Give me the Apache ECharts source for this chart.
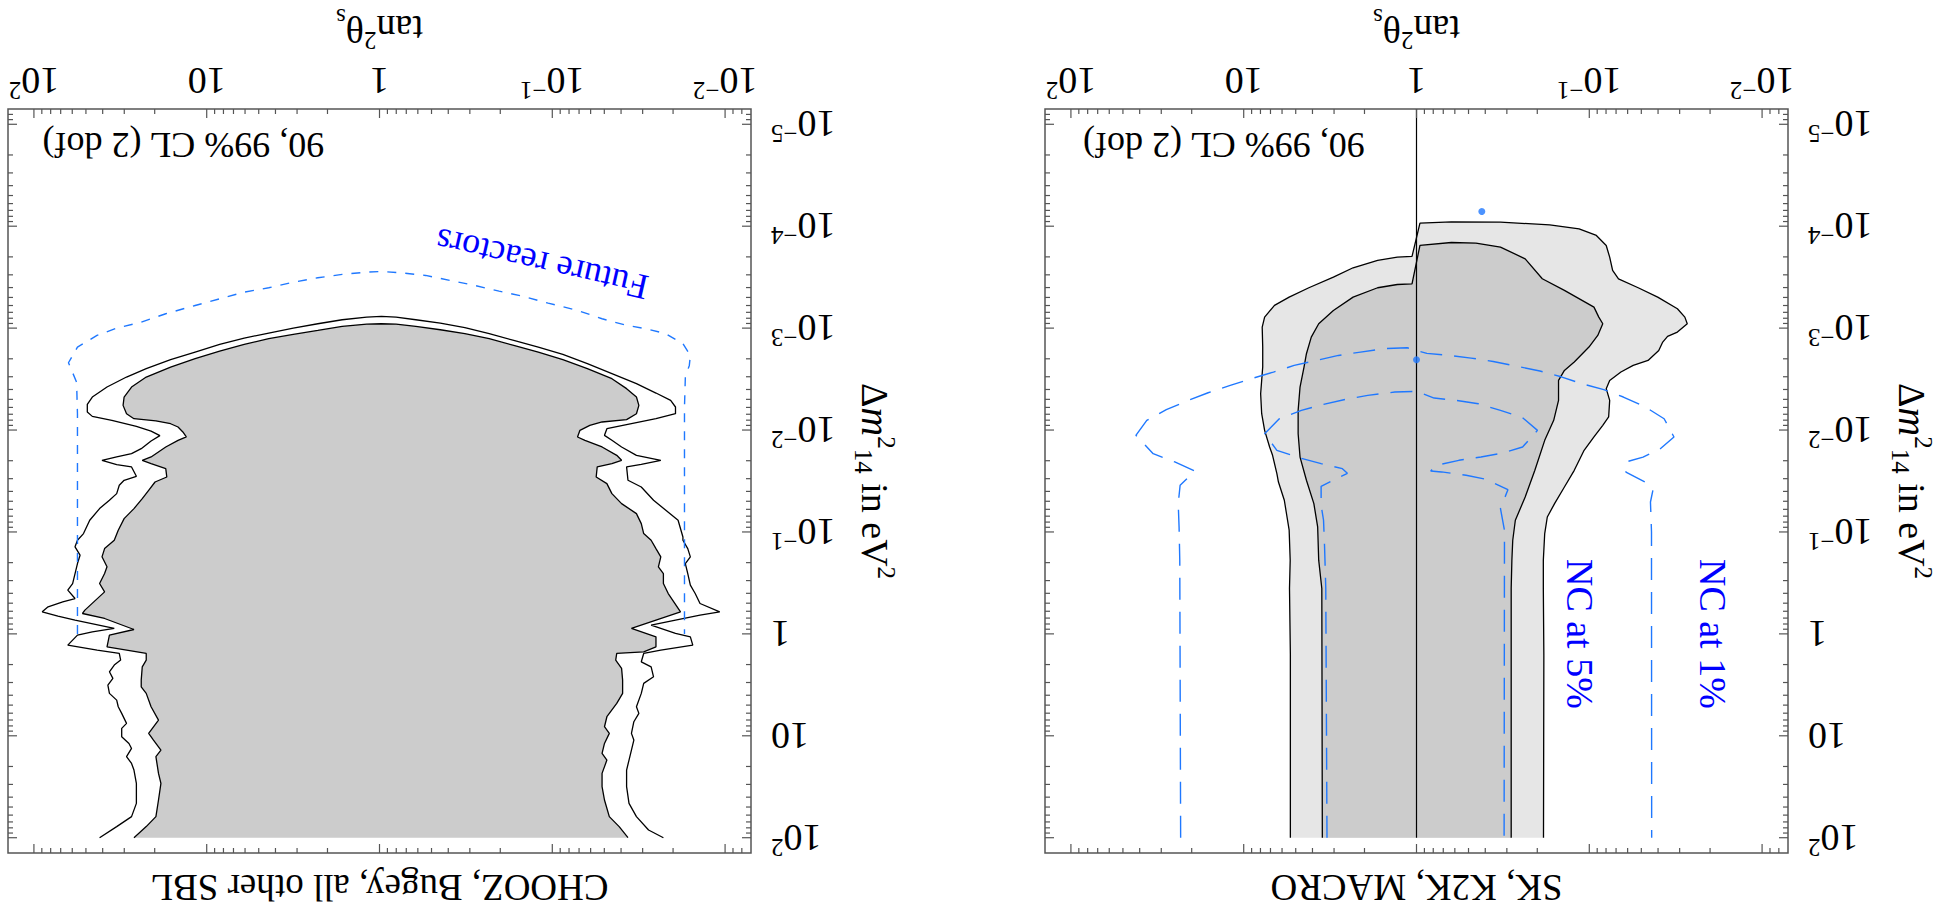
<!DOCTYPE html>
<html><head><meta charset="utf-8">
<script src="https://cdn.jsdelivr.net/npm/echarts@6/dist/echarts.min.js"></script>
<style>
html,body{margin:0;padding:0;background:#fff;overflow:hidden}
#chart{width:1939px;height:915px;transform:rotate(180deg);transform-origin:50% 50%}
</style></head><body><div id="chart"></div>
<script>
// All contour points as [log10(tan^2 theta_s), log10(Delta m^2_14 / eV^2)]
const skOuter99 = [[0.73,2.0],[0.73,0.2],[0.735,-0.445],[0.731,-0.723],[0.737,-1.017],[0.754,-1.196],[0.765,-1.311],[0.799,-1.49],[0.808,-1.572],[0.833,-1.752],[0.850,-1.834],[0.879,-1.997],[0.896,-2.160],[0.902,-2.356],[0.890,-2.618],[0.890,-2.814],[0.893,-3.010],[0.879,-3.108],[0.822,-3.223],[0.737,-3.304],[0.623,-3.396],[0.481,-3.500],[0.367,-3.592],[0.225,-3.664],[0.111,-3.696],[0.026,-3.703],
 [-0.020,-4.030],[-0.202,-4.043],[-0.486,-4.040],[-0.771,-4.013],[-0.941,-3.974],[-1.041,-3.909],[-1.098,-3.811],[-1.118,-3.696],[-1.135,-3.566],[-1.169,-3.484],[-1.283,-3.396],[-1.396,-3.304],[-1.510,-3.190],[-1.553,-3.108],[-1.567,-3.043],[-1.510,-2.961],[-1.453,-2.919],[-1.425,-2.863],[-1.402,-2.781],[-1.340,-2.683],[-1.254,-2.634],[-1.183,-2.569],[-1.118,-2.487],[-1.098,-2.406],[-1.118,-2.291],[-1.112,-2.128],[-1.078,-2.046],[-1.027,-1.932],[-0.970,-1.801],[-0.913,-1.605],[-0.856,-1.441],[-0.799,-1.278],[-0.757,-1.147],[-0.742,-0.984],[-0.734,-0.723],[-0.734,-0.445],[-0.737,0.209],[-0.735,2.0]];
const skInner90 = [[0.545,2.0],[0.548,-0.445],[0.566,-0.723],[0.572,-1.049],[0.594,-1.278],[0.637,-1.507],[0.674,-1.735],[0.685,-1.964],[0.685,-2.193],[0.674,-2.422],[0.651,-2.618],[0.637,-2.749],[0.609,-2.912],[0.566,-3.043],[0.481,-3.173],[0.367,-3.304],[0.225,-3.396],[0.111,-3.428],[0.026,-3.435],
 [-0.020,-3.811],[-0.202,-3.840],[-0.344,-3.834],[-0.486,-3.795],[-0.629,-3.680],[-0.728,-3.484],[-0.856,-3.370],[-1.027,-3.206],[-1.055,-3.108],[-1.078,-3.043],[-1.049,-2.928],[-0.998,-2.814],[-0.913,-2.667],[-0.856,-2.585],[-0.822,-2.487],[-0.822,-2.291],[-0.794,-2.095],[-0.742,-1.899],[-0.685,-1.605],[-0.629,-1.343],[-0.572,-1.115],[-0.557,-0.919],[-0.552,-0.723],[-0.548,-0.445],[-0.548,2.0]];
const skUnitLine = [[0,-5.15],[0,2.0]];
const skNC1 = [[1.365,2.0],[1.37,-0.723],[1.374,-1.049],[1.379,-1.278],[1.368,-1.458],[1.283,-1.598],[1.399,-1.687],[1.524,-1.768],[1.624,-1.948],[1.561,-2.095],[1.448,-2.200],[1.320,-2.291],[1.206,-2.366],[1.078,-2.438],[0.956,-2.504],[0.828,-2.569],[0.708,-2.634],[0.580,-2.683],[0.452,-2.732],[0.324,-2.765],[0.191,-2.798],[0.054,-2.807],[-0.060,-2.752],[-0.188,-2.732],[-0.316,-2.706],[-0.444,-2.673],[-0.586,-2.624],[-0.714,-2.579],[-0.842,-2.520],[-0.956,-2.455],[-1.084,-2.396],[-1.197,-2.324],[-1.325,-2.226],[-1.433,-2.111],[-1.490,-1.932],[-1.411,-1.817],[-1.311,-1.735],[-1.212,-1.687],[-1.212,-1.588],[-1.340,-1.474],[-1.368,-1.409],[-1.354,-1.294],[-1.36,-1.0],[-1.36,-0.72],[-1.361,2.0]];
const skNC5 = [[0.518,2.0],[0.525,-0.445],[0.532,-0.853],[0.538,-1.115],[0.552,-1.262],[0.552,-1.448],[0.40,-1.575],[0.429,-1.621],[0.552,-1.670],[0.680,-1.729],[0.808,-1.801],[0.879,-1.964],[0.794,-2.111],[0.666,-2.193],[0.538,-2.252],[0.410,-2.301],[0.282,-2.340],[0.125,-2.373],[0.0,-2.379],[-0.102,-2.314],[-0.230,-2.291],[-0.358,-2.258],[-0.486,-2.193],[-0.614,-2.121],[-0.700,-1.997],[-0.614,-1.834],[-0.501,-1.775],[-0.373,-1.736],[-0.245,-1.703],[-0.117,-1.654],[-0.082,-1.598],[-0.145,-1.589],[-0.287,-1.556],[-0.401,-1.517],[-0.529,-1.415],[-0.486,-1.229],[-0.509,-1.017],[-0.509,-0.788],[-0.507,2.0]];
const skBestFits = [[-0.378,-4.144],[0.0,-2.690]];

const chOuter = [[1.62,2.0],[1.521,1.891],[1.435,1.793],[1.407,1.663],[1.407,1.467],[1.421,1.336],[1.435,1.271],[1.464,1.205],[1.435,1.124],[1.450,1.075],[1.492,1.009],[1.492,0.927],[1.464,0.878],[1.492,0.780],[1.512,0.715],[1.521,0.650],[1.563,0.584],[1.572,0.503],[1.543,0.437],[1.563,0.372],[1.535,0.306],[1.498,0.257],[1.506,0.192],[1.634,0.159],[1.804,0.110],[1.748,0.012],[1.662,-0.020],[1.535,-0.053],[1.762,-0.135],[1.861,-0.174],[1.952,-0.216],[1.918,-0.265],[1.833,-0.314],[1.762,-0.347],[1.804,-0.429],[1.776,-0.494],[1.762,-0.592],[1.748,-0.690],[1.733,-0.772],[1.762,-0.854],[1.748,-0.919],[1.713,-0.984],[1.677,-1.115],[1.620,-1.229],[1.563,-1.311],[1.521,-1.376],[1.506,-1.458],[1.478,-1.507],[1.407,-1.546],[1.435,-1.638],[1.521,-1.660],[1.606,-1.703],[1.521,-1.736],[1.435,-1.768],[1.379,-1.817],[1.322,-1.893],[1.271,-1.945],[1.322,-1.990],[1.407,-2.036],[1.549,-2.095],[1.662,-2.134],[1.691,-2.177],[1.691,-2.252],[1.662,-2.324],[1.577,-2.422],[1.464,-2.520],[1.350,-2.602],[1.209,-2.690],[1.067,-2.765],[0.925,-2.840],[0.783,-2.902],[0.641,-2.951],[0.499,-3.000],[0.357,-3.043],[0.216,-3.082],[0.074,-3.108],[-0.011,-3.115],
 [-0.096,-3.108],[-0.210,-3.082],[-0.352,-3.049],[-0.494,-3.004],[-0.635,-2.945],[-0.777,-2.879],[-0.919,-2.814],[-1.061,-2.742],[-1.203,-2.651],[-1.345,-2.553],[-1.487,-2.455],[-1.600,-2.363],[-1.685,-2.291],[-1.713,-2.226],[-1.713,-2.160],[-1.600,-2.111],[-1.458,-2.062],[-1.316,-2.013],[-1.302,-1.948],[-1.345,-1.899],[-1.401,-1.834],[-1.487,-1.752],[-1.628,-1.703],[-1.515,-1.664],[-1.430,-1.638],[-1.438,-1.507],[-1.515,-1.441],[-1.586,-1.311],[-1.657,-1.213],[-1.728,-1.115],[-1.756,-0.951],[-1.756,-0.919],[-1.784,-0.837],[-1.799,-0.756],[-1.770,-0.690],[-1.784,-0.592],[-1.799,-0.478],[-1.827,-0.396],[-1.855,-0.298],[-1.969,-0.216],[-1.855,-0.184],[-1.713,-0.135],[-1.572,-0.086],[-1.713,-0.004],[-1.799,0.029],[-1.813,0.110],[-1.628,0.159],[-1.529,0.192],[-1.515,0.274],[-1.572,0.323],[-1.586,0.421],[-1.529,0.486],[-1.515,0.584],[-1.487,0.715],[-1.501,0.780],[-1.472,0.862],[-1.458,0.976],[-1.472,1.042],[-1.458,1.140],[-1.444,1.238],[-1.430,1.336],[-1.430,1.499],[-1.444,1.663],[-1.487,1.793],[-1.557,1.924],[-1.643,2.0]];
const chInner = [[1.421,2.0],[1.350,1.891],[1.294,1.793],[1.279,1.630],[1.265,1.467],[1.279,1.369],[1.294,1.205],[1.265,1.140],[1.308,1.042],[1.336,0.976],[1.279,0.846],[1.322,0.715],[1.350,0.584],[1.379,0.519],[1.379,0.454],[1.373,0.323],[1.350,0.257],[1.350,0.192],[1.577,0.127],[1.563,0.012],[1.421,-0.043],[1.591,-0.151],[1.719,-0.200],[1.705,-0.233],[1.591,-0.412],[1.620,-0.494],[1.591,-0.592],[1.577,-0.658],[1.606,-0.756],[1.591,-0.837],[1.535,-0.919],[1.512,-1.017],[1.478,-1.131],[1.421,-1.229],[1.373,-1.327],[1.336,-1.409],[1.299,-1.490],[1.231,-1.539],[1.237,-1.621],[1.322,-1.670],[1.373,-1.703],[1.322,-1.736],[1.237,-1.834],[1.166,-1.899],[1.118,-1.932],[1.138,-1.981],[1.166,-2.030],[1.209,-2.062],[1.294,-2.089],[1.421,-2.111],[1.464,-2.160],[1.484,-2.242],[1.478,-2.324],[1.435,-2.422],[1.350,-2.520],[1.209,-2.618],[1.067,-2.700],[0.925,-2.775],[0.783,-2.840],[0.641,-2.896],[0.499,-2.938],[0.357,-2.977],[0.216,-3.017],[0.074,-3.040],[-0.011,-3.043],
 [-0.096,-3.040],[-0.210,-3.017],[-0.352,-2.984],[-0.494,-2.945],[-0.635,-2.896],[-0.777,-2.830],[-0.919,-2.765],[-1.061,-2.690],[-1.203,-2.602],[-1.345,-2.504],[-1.430,-2.406],[-1.487,-2.324],[-1.501,-2.242],[-1.487,-2.160],[-1.430,-2.102],[-1.288,-2.079],[-1.217,-2.046],[-1.160,-1.997],[-1.146,-1.932],[-1.189,-1.899],[-1.288,-1.834],[-1.373,-1.752],[-1.401,-1.703],[-1.345,-1.670],[-1.260,-1.638],[-1.254,-1.539],[-1.316,-1.474],[-1.345,-1.376],[-1.401,-1.278],[-1.487,-1.180],[-1.515,-1.082],[-1.529,-0.984],[-1.572,-0.919],[-1.600,-0.837],[-1.628,-0.756],[-1.614,-0.658],[-1.643,-0.592],[-1.643,-0.494],[-1.671,-0.396],[-1.742,-0.216],[-1.600,-0.135],[-1.458,-0.053],[-1.600,0.029],[-1.600,0.127],[-1.529,0.176],[-1.373,0.192],[-1.367,0.257],[-1.401,0.339],[-1.407,0.454],[-1.407,0.584],[-1.373,0.682],[-1.316,0.813],[-1.302,0.911],[-1.330,0.976],[-1.302,1.075],[-1.288,1.173],[-1.316,1.238],[-1.288,1.369],[-1.288,1.499],[-1.302,1.630],[-1.330,1.793],[-1.387,1.891],[-1.438,2.0]];
const chFuture = [[1.748,0.0],[1.748,-0.92],[1.748,-2.16],[1.753,-2.47],[1.80,-2.66],[1.748,-2.814],[1.635,-2.928],[1.521,-3.000],[1.379,-3.059],[1.237,-3.141],[1.067,-3.222],[0.925,-3.288],[0.783,-3.353],[0.641,-3.396],[0.499,-3.451],[0.357,-3.494],[0.216,-3.527],[0.074,-3.549],[-0.011,-3.556],[-0.125,-3.543],[-0.267,-3.517],[-0.409,-3.468],[-0.550,-3.419],[-0.692,-3.363],[-0.834,-3.311],[-0.976,-3.245],[-1.146,-3.174],[-1.288,-3.092],[-1.430,-3.027],[-1.543,-2.994],[-1.657,-2.945],[-1.756,-2.847],[-1.799,-2.732],[-1.793,-2.634],[-1.770,-2.520],[-1.765,-2.226],[-1.765,-0.92],[-1.765,0.0]];

// axis extents and tick values
const xRange = [0.00708, 141.25];
const yRange = [7.08e-6, 141.25];
const xMajorTicks = [0.01, 0.1, 1, 10, 100];
const yMajorTicks = [1e-5, 1e-4, 1e-3, 1e-2, 1e-1, 1, 10, 100];
const minorMantissas = [2, 3, 4, 5, 6, 7, 8, 9];
const panelTitles = ['SK, K2K, MACRO', 'CHOOZ, Bugey, all other SBL'];
const clLabel = '90, 99% CL (2 dof)';
// annotation anchors [log10 tan2, log10 dm2]
const skNotes = [{t:'NC at 5%', p:[-0.946,0.0]}, {t:'NC at 1%', p:[-1.716,0.0]}, {t:clLabel, p:[1.93,-4.80]}];
const chNotes = [{t:'Future reactors', p:[-0.94,-3.63]}, {t:clLabel, p:[1.95,-4.80]}];

const FONT = "Liberation Serif";
const P = a => a.map(p => [Math.pow(10, p[0]), Math.pow(10, p[1])]);
function minorTicks(lo, hi) {
  const r = [];
  for (let e = -7; e <= 3; e++) for (const m of minorMantissas) { const v = m * Math.pow(10, e); if (v > lo * 1.0001 && v < hi * 0.9999) r.push(v); }
  return r;
}
const xTickData = xMajorTicks.map(v => [v, 1, 1]).concat(minorTicks(xRange[0], xRange[1]).map(v => [v, 1, 0]));
const yTickData = yMajorTicks.map(v => [1, v, 1]).concat(minorTicks(yRange[0], yRange[1]).map(v => [1, v, 0]));

function fmtLog(v) {
  const l = Math.log10(v), e = Math.round(l);
  if (Math.abs(l - e) > 1e-6) return '';
  if (e === 0) return '{b|1}';
  if (e === 1) return '{b|10}';
  return '{b|10}{s|' + (e < 0 ? '\u2212' + (-e) : e) + '}';
}
const tickRich = {
  b: {fontSize: 38, fontFamily: FONT, color: '#000', lineHeight: 44},
  s: {fontSize: 25, fontFamily: FONT, color: '#000', lineHeight: 28, verticalAlign: 'top'}
};
const nameRich = {
  n: {fontSize: 38, fontFamily: FONT, color: '#000', lineHeight: 48},
  i: {fontSize: 40, fontFamily: FONT, fontStyle: 'italic', color: '#000', lineHeight: 48},
  sup: {fontSize: 25, fontFamily: FONT, color: '#000', lineHeight: 32, verticalAlign: 'top'},
  sub: {fontSize: 25, fontFamily: FONT, color: '#000', lineHeight: 32, verticalAlign: 'bottom'}
};

const grids = [
  {left: 151, top: 62, width: 743, height: 745, show: true, borderColor: '#555', borderWidth: 1.5, backgroundColor: 'transparent'},
  {left: 1188, top: 62, width: 743, height: 745, show: true, borderColor: '#555', borderWidth: 1.5, backgroundColor: 'transparent'}
];
const xAxes = [0, 1].map(i => ({
  type: 'log', logBase: 10, gridIndex: i, min: xRange[0], max: xRange[1],
  axisLine: {show: false}, axisTick: {show: false}, splitLine: {show: false},
  axisLabel: {formatter: fmtLog, rich: tickRich, margin: 6, showMinLabel: true, showMaxLabel: true, hideOverlap: false},
  name: '{n|tan}{sup|2}{n|\u03b8}{sub|s}', nameLocation: 'middle', nameGap: 56,
  nameTextStyle: {rich: nameRich}
}));
const yAxes = [0, 1].map(i => ({
  type: 'log', logBase: 10, gridIndex: i, min: yRange[0], max: yRange[1],
  axisLine: {show: false}, axisTick: {show: false}, splitLine: {show: false},
  axisLabel: {formatter: fmtLog, rich: tickRich, margin: 20, showMinLabel: true, showMaxLabel: true, hideOverlap: false},
  name: '{n|\u0394}{i|m}{sup|2}{sub|14}{n| in eV}{sup|2}', nameLocation: 'middle', nameGap: 100,
  nameTextStyle: {rich: nameRich}
}));

function polygonSeries(g, pts, fill, z) {
  const vals = P(pts);
  return {type: 'custom', xAxisIndex: g, yAxisIndex: g, data: [vals[0]], z, silent: true,
    renderItem: (params, api) => ({type: 'polygon', shape: {points: vals.map(v => api.coord(v))}, style: {fill: fill}})};
}
function lineSeries(g, pts, color, width, dash, z) {
  return {type: 'line', xAxisIndex: g, yAxisIndex: g, data: P(pts), symbol: 'none', showSymbol: false, z, silent: true,
    lineStyle: {color, width, type: dash || 'solid'}, clip: false};
}
function tickSeries(g, data, isX) {
  return {type: 'custom', xAxisIndex: g, yAxisIndex: g, data, z: 20, silent: true, clip: false,
    renderItem: (params, api) => {
      const cs = params.coordSys;
      const len = api.value(2) ? 9 : 5;
      const st = {stroke: '#555', lineWidth: 1.2};
      if (isX) {
        const px = api.coord([api.value(0), 1])[0];
        return {type: 'group', children: [
          {type: 'line', shape: {x1: px, y1: cs.y + cs.height, x2: px, y2: cs.y + cs.height - len}, style: st},
          {type: 'line', shape: {x1: px, y1: cs.y, x2: px, y2: cs.y + len}, style: st}]};
      }
      const py = api.coord([1, api.value(1)])[1];
      return {type: 'group', children: [
        {type: 'line', shape: {x1: cs.x, y1: py, x2: cs.x + len, y2: py}, style: st},
        {type: 'line', shape: {x1: cs.x + cs.width, y1: py, x2: cs.x + cs.width - len, y2: py}, style: st}]};
    }};
}
function noteSeries(g, note, opts) {
  return {type: 'custom', xAxisIndex: g, yAxisIndex: g, data: P([note.p]), z: 30, silent: true, clip: false,
    renderItem: (params, api) => {
      const c = api.coord([api.value(0), api.value(1)]);
      return {type: 'text', x: c[0], y: c[1], rotation: opts.rot || 0,
        style: {text: note.t, fontSize: opts.size, fontFamily: FONT, fill: opts.color, align: opts.align || 'center', verticalAlign: 'middle'}};
    }};
}

const BLUE = '#1f78ff';
const series = [
  polygonSeries(0, skOuter99, '#e6e6e6', 2),
  lineSeries(0, skOuter99, '#000', 1.3, null, 3),
  polygonSeries(0, skInner90, '#cccccc', 4),
  lineSeries(0, skInner90, '#000', 1.3, null, 5),
  lineSeries(0, skUnitLine, '#000', 1.2, null, 6),
  lineSeries(0, skNC1, BLUE, 1.4, [22, 12], 7),
  lineSeries(0, skNC5, BLUE, 1.4, [22, 12], 7),
  {type: 'scatter', xAxisIndex: 0, yAxisIndex: 0, data: P(skBestFits), symbol: 'circle', symbolSize: 7, itemStyle: {color: BLUE}, z: 8, silent: true},
  tickSeries(0, xTickData, true), tickSeries(0, yTickData, false),
  noteSeries(0, skNotes[0], {size: 38, color: '#0000ff', rot: Math.PI / 2}),
  noteSeries(0, skNotes[1], {size: 38, color: '#0000ff', rot: Math.PI / 2}),
  noteSeries(0, skNotes[2], {size: 36, color: '#000', align: 'right'}),

  lineSeries(1, chOuter, '#000', 1.3, null, 3),
  polygonSeries(1, chInner, '#cccccc', 4),
  lineSeries(1, chInner, '#000', 1.3, null, 5),
  lineSeries(1, chFuture, BLUE, 1.4, [9, 9], 7),
  tickSeries(1, xTickData, true), tickSeries(1, yTickData, false),
  noteSeries(1, chNotes[0], {size: 36, color: '#0000ff', rot: -0.225}),
  noteSeries(1, chNotes[1], {size: 36, color: '#000', align: 'right'})
];

const chart = echarts.init(document.getElementById('chart'), null, {renderer: 'svg', width: 1939, height: 915});
chart.setOption({
  animation: false,
  backgroundColor: '#fff',
  grid: grids, xAxis: xAxes, yAxis: yAxes, series,
  graphic: [
    {type: 'text', x: 522.5, y: 28, style: {text: panelTitles[0], fontSize: 37, fontFamily: FONT, fill: '#000', align: 'center', verticalAlign: 'middle'}},
    {type: 'text', x: 1559.5, y: 28, style: {text: panelTitles[1], fontSize: 37, fontFamily: FONT, fill: '#000', align: 'center', verticalAlign: 'middle'}}
  ]
});
</script></body></html>
